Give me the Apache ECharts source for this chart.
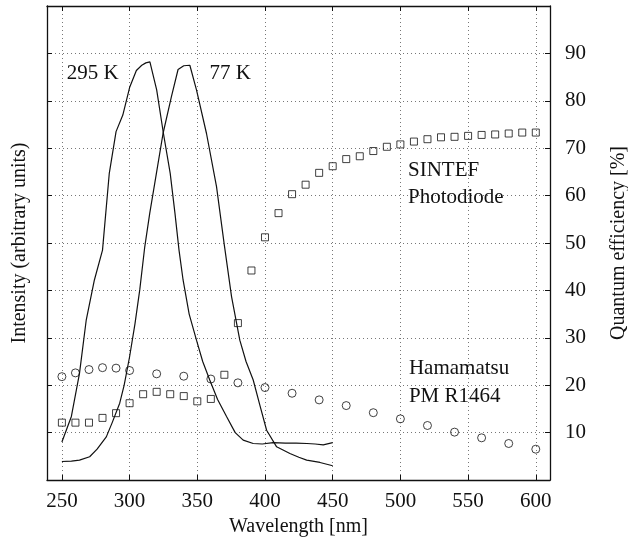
<!DOCTYPE html>
<html>
<head>
<meta charset="utf-8">
<title>Emission spectra and quantum efficiency</title>
<script src="https://cdn.jsdelivr.net/npm/echarts@6/dist/echarts.min.js"></script>
<style>
  html, body { margin: 0; padding: 0; background: #fff; }
  #chart { width: 628px; height: 541px; }
</style>
</head>
<body>
<div id="chart"></div>
<script>
// Emission spectrum at room temperature (295 K), intensity in arbitrary units
const wl295 = [250, 257, 263, 268, 274, 280, 285, 290, 295, 300, 305, 309, 312, 315,
  320, 325, 330, 333.5, 336.5, 339.5, 344, 349.4, 354, 359.2, 365, 371.6, 378, 383.9,
  391.3, 398, 406, 415, 423, 431, 437, 443, 450];
const int295 = [8.0, 13.4, 22.5, 33.8, 42.2, 48.5, 64.7, 73.5, 77.0, 82.8, 86.4, 87.5, 88.0, 88.2,
  82.3, 73.1, 64.7, 56.3, 48.5, 42.2, 35.0, 29.5, 25.0, 21.1, 17.0, 13.4, 10.0, 8.4,
  7.7, 7.6, 7.9, 7.8, 7.8, 7.7, 7.6, 7.4, 7.9];

// Emission spectrum at 77 K
const wl77 = [250, 257, 263, 270.5, 276, 282.8, 287, 292.7, 296, 300, 304, 307.5, 311.2, 314.9,
  319.8, 324.7, 330.9, 335.8, 340, 344.5, 349.4, 356.8, 364.2, 370, 375.3, 381.4, 386,
  391.3, 396, 401.2, 408.6, 418.4, 425, 430.8, 440.6, 450];
const int77 = [3.9, 4.0, 4.2, 4.9, 6.5, 9.1, 12.0, 16.2, 20.0, 26.0, 33.0, 40.1, 49.2, 56.3,
  64.7, 73.1, 80.9, 86.6, 87.4, 87.5, 82.3, 73.1, 61.9, 49.5, 38.7, 29.5, 25.0,
  21.1, 16.0, 10.5, 7.0, 5.6, 4.8, 4.2, 3.7, 3.0];

// Quantum efficiency [%] of the SINTEF photodiode
const wlSintef = [250, 260, 270, 280, 290, 300, 310, 320, 330, 340, 350, 360, 370, 380, 390,
  400, 410, 420, 430, 440, 450, 460, 470, 480, 490, 500, 510, 520, 530, 540, 550,
  560, 570, 580, 590, 600];
const qeSintef = [12.1, 12.1, 12.1, 13.1, 14.1, 16.2, 18.1, 18.6, 18.1, 17.7, 16.6, 17.1, 22.2, 33.1, 44.2,
  51.2, 56.3, 60.3, 62.3, 64.8, 66.2, 67.7, 68.3, 69.4, 70.3, 70.8, 71.4, 71.9, 72.3, 72.4, 72.6,
  72.8, 72.9, 73.1, 73.3, 73.3];

// Quantum efficiency [%] of the Hamamatsu PM R1464
const wlHama = [250, 260, 270, 280, 290, 300, 320, 340, 360, 380, 400, 420, 440, 460, 480,
  500, 520, 540, 560, 580, 600];
const qeHama = [21.8, 22.6, 23.3, 23.7, 23.6, 23.1, 22.4, 21.9, 21.3, 20.5, 19.5, 18.3, 16.9, 15.7, 14.2,
  12.9, 11.5, 10.1, 8.9, 7.7, 6.5];

// Axis ticks
const xTicks = [250, 300, 350, 400, 450, 500, 550, 600];
const yTicks = [10, 20, 30, 40, 50, 60, 70, 80, 90];

// Text annotations, anchored in data units (wavelength, value) of the right axis
const noteText = ['295 K', '77 K', 'SINTEF', 'Photodiode', 'Hamamatsu', 'PM R1464'];
const noteX = [253.5, 359.0, 505.6, 505.6, 506.3, 506.3];
const noteY = [85.7, 85.7, 65.4, 59.5, 23.6, 17.7];

const FONT = "'Liberation Serif', 'Times New Roman', Times, serif";
const INK = '#111';

const pairs = (xs, ys) => xs.map((x, i) => [x, ys[i]]);

const chart = echarts.init(document.getElementById('chart'), null, { renderer: 'canvas' });

const gridDots = { show: true, lineStyle: { color: '#777', width: 1, type: [1, 3] } };
const frame = { show: true, onZero: false, lineStyle: { color: INK, width: 1.3 } };

const option = {
  backgroundColor: '#fff',
  animation: false,
  textStyle: { fontFamily: FONT },
  grid: { left: 47, right: 78, top: 6, bottom: 61, containLabel: false, outerBoundsMode: 'none' },
  xAxis: [
    {
      type: 'value', position: 'bottom', min: 239, max: 610.5,
      axisLine: frame,
      axisTick: { show: true, inside: true, length: 5, customValues: xTicks, lineStyle: { color: INK, width: 1 } },
      axisLabel: { show: true, customValues: xTicks, margin: 11, color: INK, fontSize: 21, fontFamily: FONT },
      splitLine: gridDots,
      name: 'Wavelength [nm]', nameLocation: 'middle', nameGap: 34,
      nameTextStyle: { color: INK, fontSize: 20, fontFamily: FONT }
    },
    {
      type: 'value', position: 'top', min: 239, max: 610.5,
      axisLine: frame,
      axisTick: { show: true, inside: true, length: 5, customValues: xTicks, lineStyle: { color: INK, width: 1 } },
      axisLabel: { show: false },
      splitLine: { show: false }
    }
  ],
  yAxis: [
    {
      type: 'value', position: 'left', min: 0, max: 100, interval: 10,
      axisLine: frame,
      axisTick: { show: true, inside: true, length: 5, lineStyle: { color: INK, width: 1 } },
      axisLabel: { show: false },
      splitLine: gridDots,
      name: 'Intensity (arbitrary units)', nameLocation: 'middle', nameRotate: 90, nameGap: 17,
      nameTextStyle: { color: INK, fontSize: 20, fontFamily: FONT }
    },
    {
      type: 'value', position: 'right', min: 0, max: 100, interval: 10,
      axisLine: frame,
      axisTick: { show: true, inside: true, length: 5, lineStyle: { color: INK, width: 1 } },
      axisLabel: {
        show: true, margin: 15, color: INK, fontSize: 21, fontFamily: FONT,
        formatter: v => (yTicks.indexOf(v) >= 0 ? String(v) : '')
      },
      splitLine: { show: false },
      name: 'Quantum efficiency [%]', nameLocation: 'middle', nameRotate: 90, nameGap: 59,
      nameTextStyle: { color: INK, fontSize: 20, fontFamily: FONT }
    }
  ],
  series: [
    {
      name: '295 K', type: 'line', xAxisIndex: 0, yAxisIndex: 0,
      data: pairs(wl295, int295), showSymbol: false, symbol: 'none',
      lineStyle: { color: INK, width: 1.2 }, z: 3
    },
    {
      name: '77 K', type: 'line', xAxisIndex: 0, yAxisIndex: 0,
      data: pairs(wl77, int77), showSymbol: false, symbol: 'none',
      lineStyle: { color: INK, width: 1.2 }, z: 3
    },
    {
      name: 'SINTEF Photodiode', type: 'scatter', xAxisIndex: 0, yAxisIndex: 1,
      data: pairs(wlSintef, qeSintef), symbol: 'rect', symbolSize: 7,
      itemStyle: { color: 'rgba(255,255,255,0)', borderColor: INK, borderWidth: 1 }, z: 4
    },
    {
      name: 'Hamamatsu PM R1464', type: 'scatter', xAxisIndex: 0, yAxisIndex: 1,
      data: pairs(wlHama, qeHama), symbol: 'circle', symbolSize: 8,
      itemStyle: { color: 'rgba(255,255,255,0)', borderColor: INK, borderWidth: 1 }, z: 4
    }
  ]
};

chart.setOption(option);

// Place the annotations at their data positions
const notes = noteText.map((t, i) => {
  const p = chart.convertToPixel({ xAxisIndex: 0, yAxisIndex: 1 }, [noteX[i], noteY[i]]);
  return {
    type: 'text', x: p[0], y: p[1], z: 10,
    style: { text: t, fill: INK, font: '21px ' + FONT, textAlign: 'left', textVerticalAlign: 'middle' }
  };
});
chart.setOption({ graphic: notes });
</script>
</body>
</html>
